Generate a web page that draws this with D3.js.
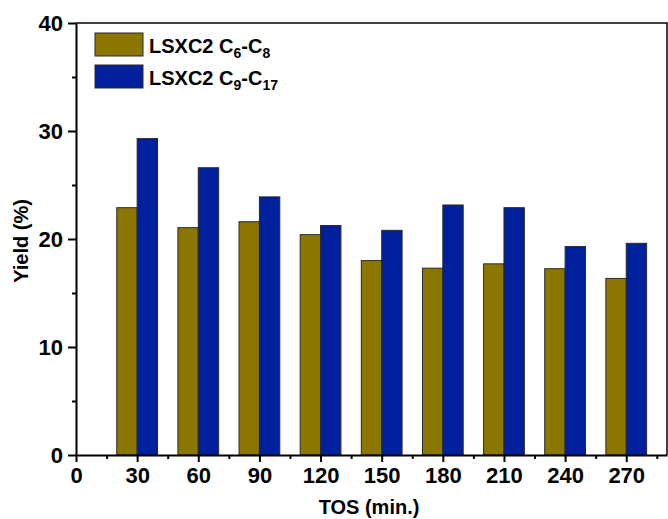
<!DOCTYPE html>
<html>
<head>
<meta charset="utf-8">
<script src="https://cdn.jsdelivr.net/npm/d3@7"></script>
<style>
  html, body { margin: 0; padding: 0; background: #fff; }
  svg { display: block; font-family: "Liberation Sans", Arial, sans-serif; font-weight: bold; }
</style>
</head>
<body>
<svg id="chart" width="668" height="519"></svg>
<script>
// Time on stream (min.)
const tos = [30, 60, 90, 120, 150, 180, 210, 240, 270];
// Yield (%) of the C6-C8 fraction
const yieldC6C8 = [22.9, 21.05, 21.6, 20.4, 18.0, 17.3, 17.7, 17.25, 16.35];
// Yield (%) of the C9-C17 fraction
const yieldC9C17 = [29.3, 26.6, 23.9, 21.25, 20.8, 23.15, 22.9, 19.3, 19.6];
// Axis ticks
const xTicks = [0, 30, 60, 90, 120, 150, 180, 210, 240, 270];
const xMinorTicks = [15, 45, 75, 105, 135, 165, 195, 225, 255, 285];
const yTicks = [0, 10, 20, 30, 40];
const yMinorTicks = [5, 15, 25, 35];

const seriesNames = [
  { base: "LSXC2 C", a: "6", b: "8" },
  { base: "LSXC2 C", a: "9", b: "17" }
];
const colors = ["#8b7700", "#00209e"];

const svg = d3.select("#chart");
const m = { left: 76, right: 1, top: 23, bottom: 64 };
const W = 668, H = 519;

const x = d3.scaleLinear().domain([0, 290]).range([m.left, W - m.right]);
const y = d3.scaleLinear().domain([0, 40]).range([H - m.bottom, m.top]);

const barW = 10; // bar width in minutes

const series = [yieldC6C8, yieldC9C17];
series.forEach((vals, si) => {
  svg.append("g").selectAll("rect")
    .data(vals.map((v, i) => ({ t: tos[i], v })))
    .join("rect")
    .attr("x", d => si === 0 ? x(d.t - barW) : x(d.t))
    .attr("width", x(barW) - x(0))
    .attr("y", d => y(d.v))
    .attr("height", d => y(0) - y(d.v))
    .attr("fill", colors[si])
    .attr("stroke", "#2a2a2a")
    .attr("stroke-width", 1);
});

// Frame: top and right edges
svg.append("path")
  .attr("d", `M${x(0)},${y(40)}H${x(290)}V${y(0)}`)
  .attr("fill", "none").attr("stroke", "#000").attr("stroke-width", 1.5);

// X axis
const xAxis = svg.append("g").attr("transform", `translate(0,${y(0)})`);
xAxis.call(d3.axisBottom(x).tickValues(xTicks).tickSize(7).tickSizeOuter(0).tickPadding(5));
xAxis.append("g").call(d3.axisBottom(x).tickValues(xMinorTicks).tickSize(4).tickFormat("").tickSizeOuter(0))
  .select(".domain").remove();

// Y axis
const yAxis = svg.append("g").attr("transform", `translate(${x(0)},0)`);
yAxis.call(d3.axisLeft(y).tickValues(yTicks).tickSize(8).tickSizeOuter(0).tickPadding(5));
yAxis.append("g").call(d3.axisLeft(y).tickValues(yMinorTicks).tickSize(4).tickFormat("").tickSizeOuter(0))
  .select(".domain").remove();

svg.selectAll(".domain").attr("stroke", "#000").attr("stroke-width", 2);
svg.selectAll(".tick line").attr("stroke", "#000").attr("stroke-width", 2);
xAxis.selectAll(".tick text").attr("font-size", 22).attr("font-weight", "bold")
  .attr("font-family", "Liberation Sans, Arial, sans-serif").attr("fill", "#000");
yAxis.selectAll(".tick text").attr("font-size", 22).attr("font-weight", "bold")
  .attr("font-family", "Liberation Sans, Arial, sans-serif").attr("fill", "#000");

// Axis titles
svg.append("text")
  .attr("x", 369).attr("y", 514)
  .attr("text-anchor", "middle").attr("font-size", 20)
  .text("TOS (min.)");
svg.append("text")
  .attr("transform", "translate(28,241) rotate(-90)")
  .attr("text-anchor", "middle").attr("font-size", 20)
  .text("Yield (%)");

// Legend
const legend = svg.append("g");
const legendRows = [44, 76];
seriesNames.forEach((s, i) => {
  const cy = legendRows[i];
  legend.append("rect")
    .attr("x", 95).attr("y", cy - 11).attr("width", 48).attr("height", 23)
    .attr("fill", colors[i]).attr("stroke", "#2a2a2a").attr("stroke-width", 1);
  const t = legend.append("text").attr("x", 149).attr("y", cy + 9).attr("font-size", 20);
  t.append("tspan").text(s.base);
  t.append("tspan").attr("font-size", 14).attr("dy", 5).text(s.a);
  t.append("tspan").attr("dy", -5).text("-C");
  t.append("tspan").attr("font-size", 14).attr("dy", 5).text(s.b);
});
</script>
</body>
</html>
